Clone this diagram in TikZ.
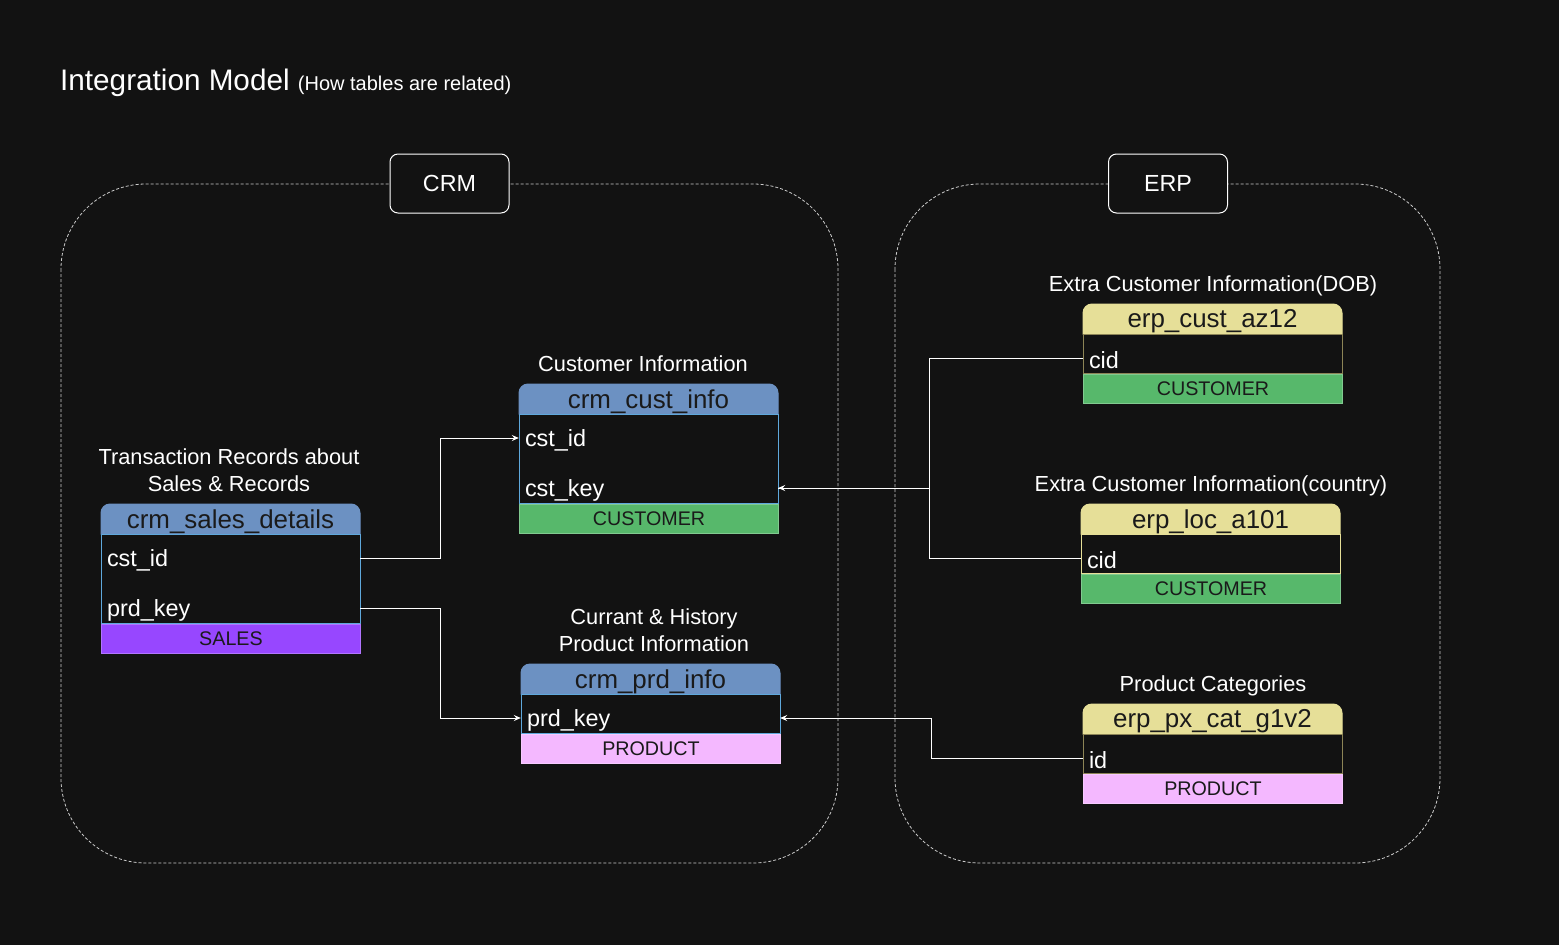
\documentclass[tikz,border=0pt]{standalone}
\usepackage{fontspec}
\setmainfont{Liberation Sans}
\usetikzlibrary{arrows.meta}
\definecolor{bgc}{HTML}{121212}
\definecolor{hblue}{HTML}{6C91C2}
\definecolor{hyel}{HTML}{E6DF98}
\definecolor{fgreen}{HTML}{57B86B}
\definecolor{fpurple}{HTML}{9747FF}
\definecolor{fpink}{HTML}{F4B8FF}
\definecolor{bblue}{HTML}{5FA8DC}
\definecolor{bolive}{HTML}{8C8456}
\definecolor{dtext}{HTML}{1A1A1A}
\newcommand\fTitle{\fontsize{29.7}{34}\selectfont}
\newcommand\fSub{\fontsize{20}{24}\selectfont}
\newcommand\fSec{\fontsize{21.8}{27}\selectfont}
\newcommand\fHdr{\fontsize{25.9}{30}\selectfont}
\newcommand\fFld{\fontsize{23.4}{28}\selectfont}
\newcommand\fFoot{\fontsize{19.7}{24}\selectfont}
\newcommand\fLbl{\fontsize{23.3}{28}\selectfont}
% #1 name, #2 x left, #3 y top, #4 body height, #5 header text, #6 header fill, #7 border, #8 footer text, #9 footer fill
\newcommand{\dbtable}[9]{%
  \filldraw[fill=#6, draw=#6, line width=1pt] (#2,#3+30) {[rounded corners=9pt] -- (#2,#3) -- (#2+259,#3)} -- (#2+259,#3+30) -- cycle;
  \node[hdrtext] (#1-h) at (#2+129.5,#3+17.5) {#5};
  \node[bodybox, draw=#7, minimum height=#4pt, anchor=north west] (#1-b) at (#2,#3+30) {};
  \node[footbox, fill=#9, draw=#9!75!white, anchor=north west] (#1-f) at (#2,#3+31+#4) {#8};
}
\begin{document}
\begin{tikzpicture}[x=1pt,y=-1pt,
  hdrtext/.style={text=dtext, font=\fHdr, inner sep=0pt},
  bodybox/.style={rectangle, fill=bgc, line width=1pt, minimum width=259pt, inner sep=0pt},
  footbox/.style={rectangle, line width=1pt, minimum width=259pt, minimum height=29pt, inner sep=0pt, text=dtext, font=\fFoot},
  field/.style={rectangle, inner xsep=6pt, inner ysep=0pt, text width=247pt, align=left, text=white, font=\fFld, minimum height=30pt},
  sect/.style={text=white, align=center, font=\fSec, inner sep=0pt},
  container/.style={draw=white!80!black, line width=0.8pt, dash pattern=on 3pt off 2pt, rounded corners=85pt},
  grplabel/.style={draw=white, fill=bgc, line width=1pt, rounded corners=8pt, minimum width=119pt, minimum height=59pt, text=white, font=\fLbl},
  conn/.style={draw=white, line width=1pt, -{Stealth[length=7pt,width=6pt,inset=2.5pt]}},
  connplain/.style={draw=white, line width=1pt}
]
\fill[bgc] (0,0) rectangle (1559,945);
\useasboundingbox (0,0) rectangle (1559,945);

% title
\node[anchor=base west, text=white, inner sep=0pt] (title) at (60,90) {\fTitle Integration Model \fSub(How tables are related)};

% containers
\draw[container] (61,184) rectangle (838,863);
\draw[container] (895,184) rectangle (1440,863);
\node[grplabel] (crm) at (449.5,183.5) {CRM};
\node[grplabel] (erp) at (1168,183.5) {ERP};

% section titles
\node[sect] (t-sd) at (229,470) {Transaction Records about\\Sales \& Records};
\node[sect] (t-ci) at (643,364) {Customer Information};
\node[sect] (t-pi) at (654,630) {Currant \& History\\Product Information};
\node[sect] (t-ec) at (1213,285.5) {Extra Customer Information(DOB)};
\node[sect] (t-el) at (1211,485.5) {Extra Customer Information(country)};
\node[sect] (t-ep) at (1213,685.5) {Product Categories};

% tables
\dbtable{sd}{101}{504}{89}{crm\_sales\_details}{hblue}{bblue}{SALES}{fpurple}
\dbtable{ci}{519}{384}{89}{crm\_cust\_info}{hblue}{bblue}{CUSTOMER}{fgreen}
\dbtable{pi}{521}{664}{39}{crm\_prd\_info}{hblue}{bblue}{PRODUCT}{fpink}
\dbtable{ec}{1083}{304}{39}{erp\_cust\_az12}{hyel}{bolive}{CUSTOMER}{fgreen}
\dbtable{el}{1081}{504}{39}{erp\_loc\_a101}{hyel}{hyel}{CUSTOMER}{fgreen}
\dbtable{ep}{1083}{704}{39}{erp\_px\_cat\_g1v2}{hyel}{bolive}{PRODUCT}{fpink}

% fields
\node[field] (sd-cst) at (230.5,560) {cst\_id};
\node[field] (sd-prd) at (230.5,610) {prd\_key};
\node[field] (ci-cst) at (648.5,440) {cst\_id};
\node[field] (ci-key) at (648.5,490) {cst\_key};
\node[field] (pi-prd) at (650.5,720) {prd\_key};
\node[field] (ec-cid) at (1212.5,360) {cid};
\node[field] (el-cid) at (1210.5,560) {cid};
\node[field] (ep-id) at (1212.5,760) {id};

% connector anchor points on the field rows
\coordinate (sd-cst-r) at ([yshift=2pt]sd-cst.east);
\coordinate (sd-prd-r) at ([yshift=2pt]sd-prd.east);
\coordinate (ci-cst-l) at ([yshift=2pt]ci-cst.west);
\coordinate (ci-key-r) at ([yshift=2pt]ci-key.east);
\coordinate (pi-prd-l) at ([yshift=2pt]pi-prd.west);
\coordinate (pi-prd-r) at ([yshift=2pt]pi-prd.east);
\coordinate (ec-cid-l) at ([yshift=2pt]ec-cid.west);
\coordinate (el-cid-l) at ([yshift=2pt]el-cid.west);
\coordinate (ep-id-l) at ([yshift=2pt]ep-id.west);

% connectors
\draw[conn] (sd-cst-r) -- ++(80,0) |- (ci-cst-l);
\draw[conn] (sd-prd-r) -- ++(80,0) |- (pi-prd-l);
\draw[conn] (ec-cid-l) -- ++(-153,0) |- (ci-key-r);
\draw[connplain] (el-cid-l) -- ++(-151,0) |- (ci-key-r);
\draw[conn] (ep-id-l) -- ++(-151,0) |- (pi-prd-r);
\end{tikzpicture}
\end{document}
